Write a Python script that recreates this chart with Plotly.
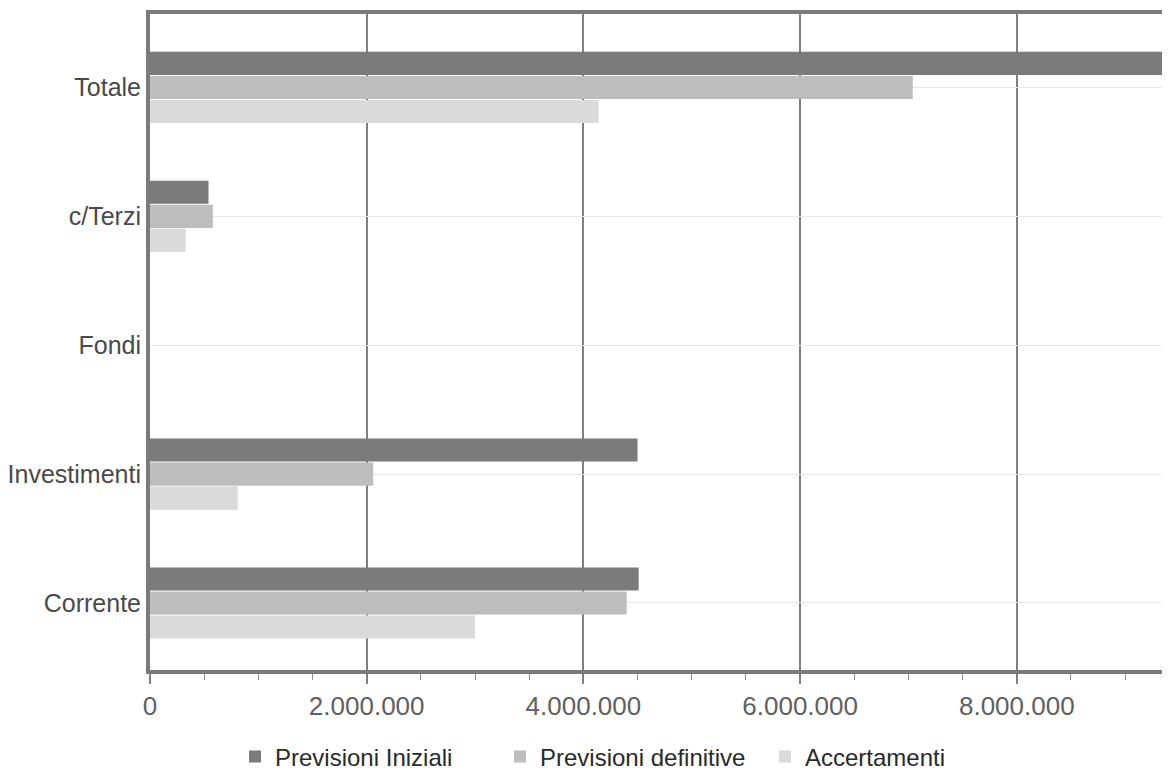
import plotly.graph_objects as go

categories = ["Corrente", "Investimenti", "Fondi", "c/Terzi", "Totale"]
previsioni_iniziali = [4510000, 4500000, 0, 540000, 9550000]
previsioni_definitive = [4400000, 2060000, 0, 580000, 7040000]
accertamenti = [3000000, 810000, 0, 330000, 4140000]
tick_values = [0, 2000000, 4000000, 6000000, 8000000]

FONT = "Liberation Sans, Arial, sans-serif"

# page body has an 8px margin; size the figure so no scrollbars appear
W, H = 1154, 768
L, T = 142, 6
PLOT_H = 656
B = H - T - PLOT_H
PLOT_W = W - L


def px_to_paper_x(page_x):
    return (page_x - 8 - L) / PLOT_W


LEG_Y = -87 / PLOT_H

fig = go.Figure()
fig.add_trace(go.Bar(y=categories, x=accertamenti, orientation="h", name="Accertamenti",
                     marker=dict(color="#dadada", line=dict(width=0)), legend="legend3"))
fig.add_trace(go.Bar(y=categories, x=previsioni_definitive, orientation="h", name="Previsioni definitive",
                     marker=dict(color="#bdbdbd", line=dict(width=0)), legend="legend2"))
fig.add_trace(go.Bar(y=categories, x=previsioni_iniziali, orientation="h", name="Previsioni Iniziali",
                     marker=dict(color="#7b7b7b", line=dict(width=0)), legend="legend"))

leg_common = dict(orientation="h", xanchor="left", y=LEG_Y, yanchor="middle",
                  font=dict(family=FONT, size=24, color="#2a2a2a"),
                  itemwidth=30, bgcolor="rgba(0,0,0,0)")

fig.update_layout(
    width=W, height=H,
    margin=dict(l=L, r=0, t=T, b=B, autoexpand=False),
    paper_bgcolor="white", plot_bgcolor="white",
    barmode="group", bargap=0.44, bargroupgap=0.04,
    separators=",.",
    font=dict(family=FONT, size=24, color="#555555"),
    showlegend=True,
    legend=dict(x=px_to_paper_x(235), **leg_common),
    legend2=dict(x=px_to_paper_x(500), **leg_common),
    legend3=dict(x=px_to_paper_x(765), **leg_common),
)

fig.update_xaxes(
    range=[0, PLOT_W / 108.35 * 1e6],
    tickvals=tick_values, tickformat=",d",
    showgrid=True, gridcolor="#7f7f7f", gridwidth=2,
    showline=True, linecolor="#7a7a7a", linewidth=4, mirror=True,
    ticks="outside", ticklen=10, tickwidth=2, tickcolor="#808080",
    minor=dict(dtick=500000, ticks="outside", ticklen=6, tickwidth=1, tickcolor="#909090", showgrid=False),
    tickfont=dict(family=FONT, size=26, color="#606060"),
    zeroline=False, fixedrange=True,
)
fig.update_yaxes(
    type="category", categoryorder="array", categoryarray=categories,
    range=[-0.52, 4.57],
    showgrid=True, gridcolor="#e8e8e8", gridwidth=1,
    showline=True, linecolor="#7a7a7a", linewidth=4,
    ticks="", ticklabelstandoff=0,
    tickfont=dict(family=FONT, size=25, color="#4a4a4a"),
    zeroline=False, fixedrange=True,
)

fig.write_html("out.html")
